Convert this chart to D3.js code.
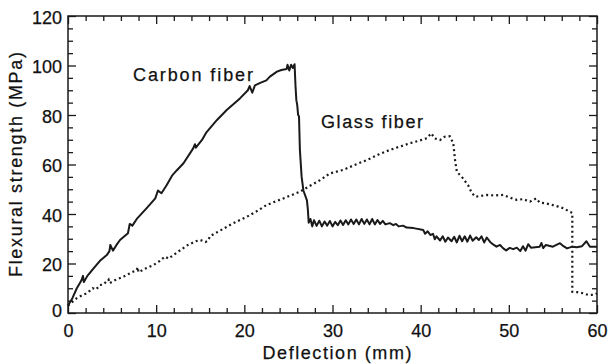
<!DOCTYPE html>
<html>
<head>
<meta charset="utf-8">
<script src="https://cdn.jsdelivr.net/npm/d3@7"></script>
<style>
  body { margin: 0; background: #fff; }
  text { font-family: "Liberation Sans", Arial, sans-serif; fill: #111; stroke: #111; stroke-width: 0.25px; }
</style>
</head>
<body>
<div id="chart"></div>
<script>
// tick values
const xMajor = [0, 10, 20, 30, 40, 50, 60];
const xMinor = [2, 4, 6, 8, 12, 14, 16, 18, 22, 24, 26, 28, 32, 34, 36, 38, 42, 44, 46, 48, 52, 54, 56, 58];
const yMajor = [0, 20, 40, 60, 80, 100, 120];
const yMinor = [5, 10, 15, 25, 30, 35, 45, 50, 55, 65, 70, 75, 85, 90, 95, 105, 110, 115];

// [deflection (mm), flexural strength (MPa)]
const carbonFiber = [
  [0, 3], [0.5, 6], [1, 10], [1.5, 13], [1.7, 15], [1.8, 12.5], [2.2, 15], [2.9, 18], [3.6, 21],
  [4.4, 23.4], [4.7, 25], [4.8, 27.5], [5.1, 25.2], [5.5, 27.5], [5.9, 29.5], [6.8, 32.2], [7.0, 36],
  [7.3, 35.3], [7.8, 38], [8.9, 42.3], [9.9, 46.3], [10.2, 49.5], [10.6, 48.4], [11.2, 51.7],
  [11.8, 55.5], [12.3, 57.5], [13.1, 60.5], [14.2, 66.5], [14.4, 68.2], [14.5, 66.8], [15.2, 69.9],
  [15.7, 73], [16.9, 78], [18, 82], [19.5, 86.7], [20.4, 90], [20.6, 91.7], [20.9, 89], [21.2, 92],
  [21.8, 93], [22.5, 94], [22.9, 95.5], [23.7, 97.5], [24.2, 98.2], [24.8, 98.6], [24.9, 100.3],
  [25.1, 98], [25.3, 100.3], [25.5, 99], [25.7, 100.5], [25.8, 92], [25.9, 86], [26.0, 84],
  [26.1, 80], [26.2, 79.5], [26.3, 66], [26.5, 55], [26.7, 49.5], [27.1, 45.5], [27.2, 42],
  [27.3, 36.5], [27.5, 38], [27.7, 35], [27.9, 37.5], [28.2, 35.2], [28.5, 37.3], [28.8, 35],
  [29.1, 37], [29.4, 35.3], [29.7, 37.2], [30, 35], [30.3, 36.8], [30.6, 35.5], [30.9, 37.4],
  [31.2, 35.6], [31.5, 37.5], [31.8, 35.8], [32.1, 37.8], [32.4, 36], [32.7, 37.8], [33, 35.8],
  [33.3, 38], [33.6, 36], [33.9, 37.8], [34.2, 35.8], [34.5, 38], [34.8, 35.8], [35.1, 37.6],
  [35.4, 36], [35.7, 37.2], [36, 35.8], [36.5, 36.3], [36.9, 35.5], [37.2, 36], [37.5, 35],
  [38, 35.3], [38.4, 34.5], [39.2, 34.3], [40.3, 33.5], [40.5, 32], [40.8, 33], [41.1, 31.5],
  [41.4, 32], [41.6, 29.8], [41.8, 31], [42.2, 29.3], [42.5, 31], [42.8, 28.8], [43.1, 30.5],
  [43.5, 29], [43.8, 30.8], [44.1, 28.5], [44.4, 31.2], [44.7, 29], [45, 31], [45.3, 28.8],
  [45.6, 31.3], [45.9, 29.2], [46.3, 30.6], [46.6, 29.5], [46.9, 31], [47.2, 28.5], [47.5, 30.5],
  [47.9, 28.6], [48.3, 27.5], [48.6, 26.8], [49, 27.5], [49.4, 26], [49.7, 25.3], [50.1, 26.3],
  [50.5, 25.8], [50.9, 26.4], [51.3, 25], [51.6, 27], [51.9, 25.2], [52.2, 27.8], [52.5, 26.4],
  [53, 26.6], [53.5, 26.8], [53.7, 28.3], [53.9, 26.2], [54.2, 27.5], [55, 26.8], [55.8, 28.2],
  [56.2, 27], [56.6, 26.1], [57.2, 26.8], [57.7, 26.6], [58.3, 27], [58.8, 29], [59.2, 26.8], [60, 26.8]
];

const glassFiber = [
  [0, 3], [0.5, 4.5], [1, 6], [1.5, 7], [2, 7.8], [2.5, 9], [2.8, 10], [3.2, 9.5], [3.6, 11.3],
  [4, 11.5], [4.3, 12.5], [4.6, 13.5], [4.7, 12], [5.3, 13.2], [6.3, 14.7], [7, 16], [7.8, 17.4],
  [7.9, 18.5], [8, 16.5], [8.8, 18], [9.7, 19.4], [10.4, 21], [11, 22.8], [11.4, 22], [12.5, 24.8],
  [13.6, 27.5], [14.5, 29], [15, 29.5], [15.6, 28.7], [15.9, 29.3], [16.1, 31], [17.4, 33.6],
  [18.7, 36.2], [20.3, 38.9], [21.5, 41.3], [22.5, 43.6], [24, 45.7], [25.2, 47.4], [26.3, 49],
  [27.5, 51.5], [28.6, 53.7], [29.7, 56.4], [31.2, 57.8], [32.5, 59.8], [33.9, 61.8], [35.2, 64],
  [36.5, 65.9], [37.7, 67.3], [38.8, 68.6], [39.8, 69.6], [40.7, 70.6], [41.2, 72.6], [41.6, 70.5],
  [42.2, 69.9], [42.7, 71.2], [43.3, 71.4], [43.7, 68.6], [43.9, 61.8], [44.1, 57.1], [44.8, 54.4],
  [45.4, 51.5], [45.8, 48.5], [46.2, 47], [46.8, 47.3], [47.5, 47.7], [48.3, 47.5], [49.4, 47.7],
  [50.2, 46.5], [50.9, 45.7], [51.6, 46], [52.4, 45], [53.1, 46.3], [53.5, 44.6], [54.2, 44.3],
  [55, 43.6], [55.6, 43], [56.2, 42.3], [56.9, 40.9], [57.2, 40.5], [57.2, 8.6], [57.8, 8.4],
  [58.4, 8], [59, 7.3], [59.6, 7.3], [60, 7.9]
];

const svg = d3.select("#chart")
    .append("svg")
    .attr("width", 612)
    .attr("height", 364);

const x = d3.scaleLinear().domain([0, 60]).range([68, 597]);
const y = d3.scaleLinear().domain([0, 120]).range([313, 16]);

// ticks on all four sides, pointing inward
svg.append("g").attr("transform", "translate(0,313)")
    .call(d3.axisBottom(x).tickValues(xMinor).tickSize(-5).tickFormat(""));
svg.append("g").attr("transform", "translate(0,16)")
    .call(d3.axisTop(x).tickValues(xMinor).tickSize(-5).tickFormat(""));
svg.append("g").attr("transform", "translate(0,16)")
    .call(d3.axisTop(x).tickValues(xMajor).tickSize(-8).tickFormat(""));
svg.append("g").attr("transform", "translate(68,0)")
    .call(d3.axisLeft(y).tickValues(yMinor).tickSize(-5).tickFormat(""));
svg.append("g").attr("transform", "translate(597,0)")
    .call(d3.axisRight(y).tickValues(yMinor).tickSize(-5).tickFormat(""));
svg.append("g").attr("transform", "translate(597,0)")
    .call(d3.axisRight(y).tickValues(yMajor).tickSize(-8).tickFormat(""));

svg.append("g").attr("transform", "translate(0,313)")
    .call(d3.axisBottom(x).tickValues(xMajor).tickSize(-8).tickFormat(d3.format("d")))
    .call(g => g.selectAll("text").attr("y", 24).attr("dy", null).style("font-size", "18px"));

svg.append("g").attr("transform", "translate(68,0)")
    .call(d3.axisLeft(y).tickValues(yMajor).tickSize(-8).tickFormat(d3.format("d")))
    .call(g => g.selectAll("text").attr("x", -6).attr("dy", "0.4em").style("font-size", "18px"))
    .call(g => g.selectAll(".tick").filter(d => d === 0).select("text").attr("y", -4));

svg.selectAll(".domain").remove();
svg.selectAll(".tick line").attr("stroke", "#1a1a1a").attr("stroke-width", 1.3);
svg.selectAll(".tick text").attr("fill", "#111");

// frame
svg.append("rect")
    .attr("x", 68).attr("y", 16)
    .attr("width", 597 - 68).attr("height", 313 - 16)
    .attr("fill", "none").attr("stroke", "#1a1a1a").attr("stroke-width", 1.5);

const line = d3.line().x(d => x(d[0])).y(d => y(d[1]));

svg.append("path")
    .datum(glassFiber)
    .attr("d", line)
    .attr("fill", "none")
    .attr("stroke", "#1a1a1a")
    .attr("stroke-width", 2.2)
    .attr("stroke-dasharray", "2,3");

svg.append("path")
    .datum(carbonFiber)
    .attr("d", line)
    .attr("fill", "none")
    .attr("stroke", "#1a1a1a")
    .attr("stroke-width", 2)
    .attr("stroke-linejoin", "round");

// labels
svg.append("text").attr("x", 133).attr("y", 81).text("Carbon fiber")
    .style("font-size", "18px").attr("textLength", 120).attr("lengthAdjust", "spacing");
svg.append("text").attr("x", 321).attr("y", 128).text("Glass fiber")
    .style("font-size", "18px").attr("textLength", 102).attr("lengthAdjust", "spacing");

svg.append("text")
    .attr("transform", "translate(21.5,164.5) rotate(-90)")
    .attr("text-anchor", "middle")
    .text("Flexural strength (MPa)")
    .style("font-size", "18px").attr("textLength", 225).attr("lengthAdjust", "spacing");

svg.append("text")
    .attr("x", 337).attr("y", 359)
    .attr("text-anchor", "middle")
    .text("Deflection (mm)")
    .style("font-size", "18px").attr("textLength", 149).attr("lengthAdjust", "spacing");
</script>
</body>
</html>
